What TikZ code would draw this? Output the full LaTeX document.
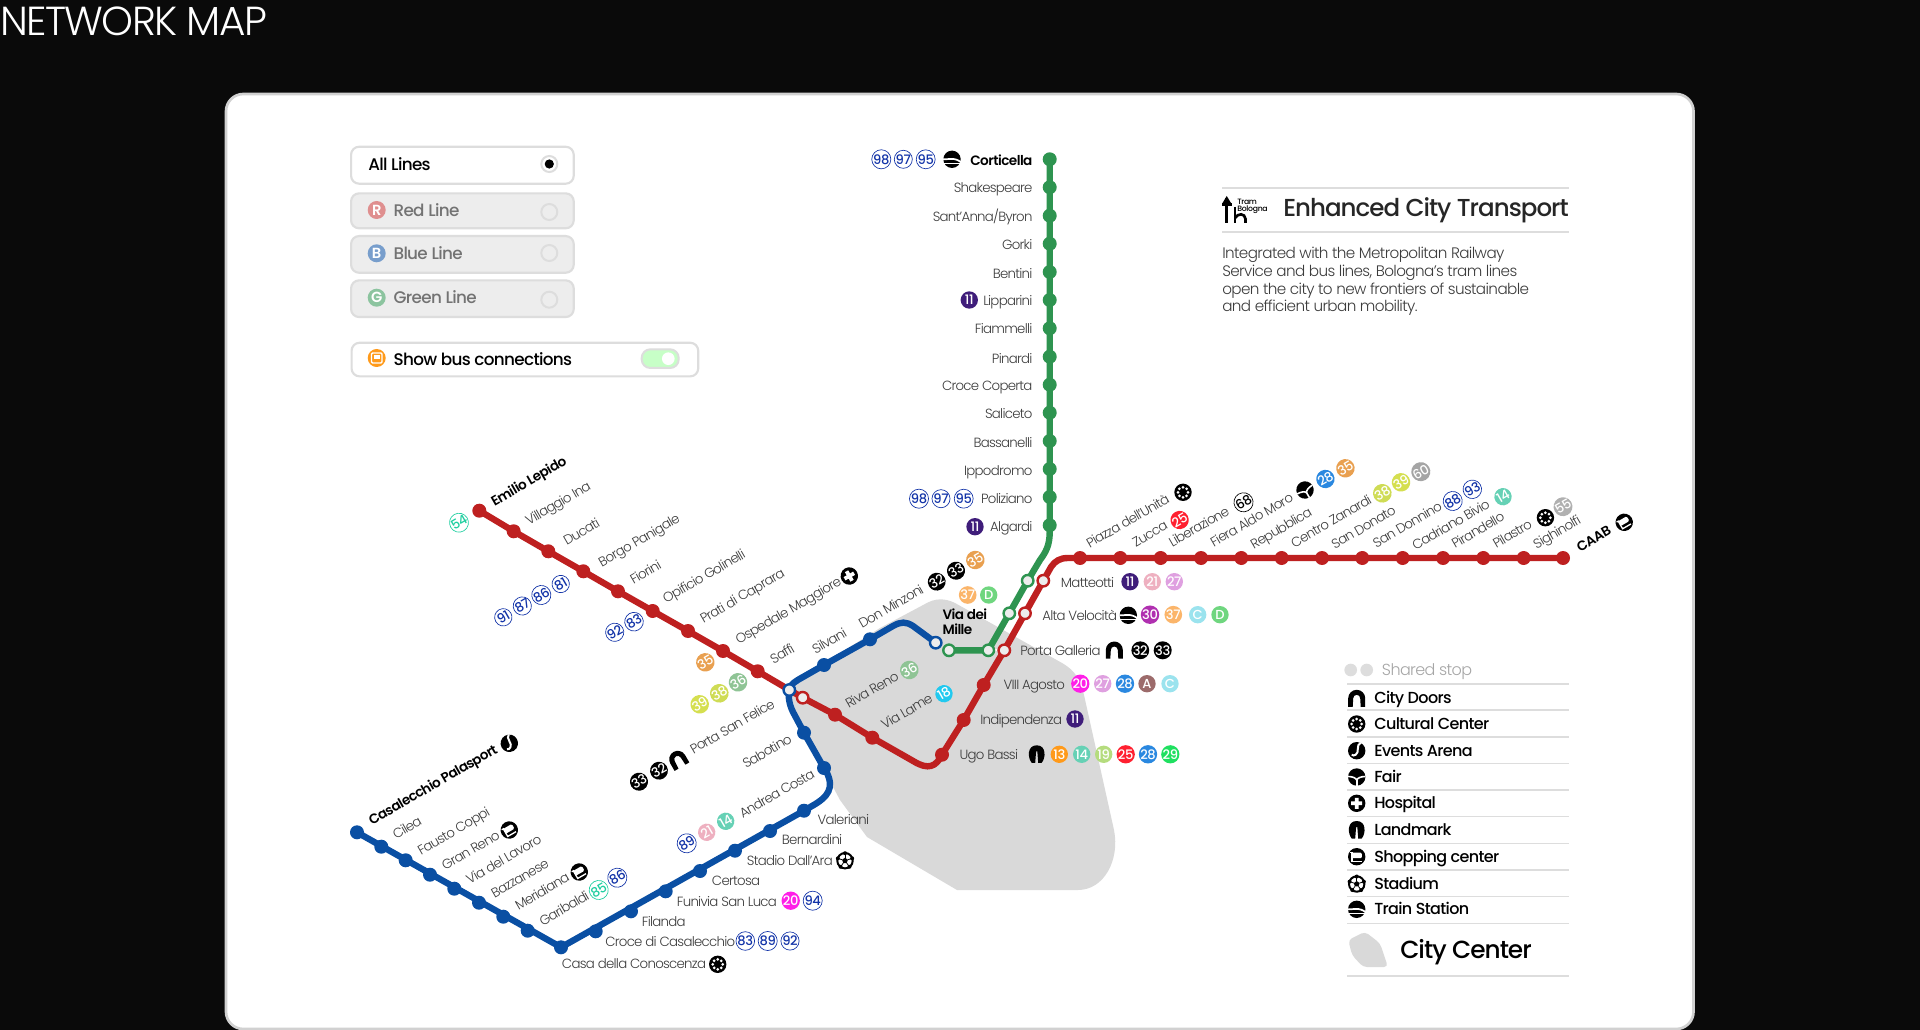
\documentclass[tikz,border=0pt]{standalone}
\usepackage{fontspec}
\setmainfont{Poppins Light}[LetterSpace=-4]
\newfontfamily\lt{Poppins Light}[LetterSpace=-5.5]
\newfontfamily\lth{Poppins Light}[LetterSpace=-4]
\newfontfamily\md{Poppins Medium}[LetterSpace=-4]
\newfontfamily\sm{Poppins SemiBold}[LetterSpace=-4]
\newfontfamily\bdg{Poppins Medium}[LetterSpace=-3]
\usetikzlibrary{calc}
\pgfdeclarelayer{bg}
\pgfsetlayers{bg,main}
\definecolor{pagebg}{HTML}{0A0A0A}
\definecolor{rline}{HTML}{BE2020}
\definecolor{bline}{HTML}{0A4FA3}
\definecolor{gline}{HTML}{2E9450}
\definecolor{cgray}{HTML}{D9D9D9}
\definecolor{txt}{HTML}{3C3C3C}
\definecolor{rule}{HTML}{DDDDDD}
\definecolor{obl}{HTML}{1233A8}
\definecolor{ogr}{HTML}{1FCFA0}
\definecolor{c11}{HTML}{3F1D7A}
\definecolor{c21}{HTML}{EEB0C0}
\definecolor{c27}{HTML}{DFA0E0}
\definecolor{c30}{HTML}{B030B0}
\definecolor{c37}{HTML}{FBB56A}
\definecolor{cC}{HTML}{9BE3EE}
\definecolor{cD}{HTML}{6FD67F}
\definecolor{c20}{HTML}{FF1FE8}
\definecolor{c28}{HTML}{2A88E0}
\definecolor{cA}{HTML}{9C6B6B}
\definecolor{c18}{HTML}{22C9EF}
\definecolor{c13}{HTML}{FF9A1A}
\definecolor{c14}{HTML}{66D1B5}
\definecolor{c19}{HTML}{B5DC7E}
\definecolor{c25}{HTML}{FF2030}
\definecolor{c29}{HTML}{1FE060}
\definecolor{c35}{HTML}{E9A050}
\definecolor{c36}{HTML}{8FC495}
\definecolor{c38}{HTML}{CFDC55}
\definecolor{c39}{HTML}{D5DF50}
\definecolor{c60}{HTML}{A5A5A5}
\definecolor{c55}{HTML}{B0B0B0}
\newcounter{nn}
\tikzset{
  x=0.75pt,y=-0.75pt,
  stopdot/.style={circle,inner sep=0pt,minimum size=10.5pt,fill=#1},
  openstop/.style={circle,inner sep=0pt,minimum size=8.6pt,fill=black!7,draw=#1,line width=1.8pt},
  metro/.style={draw=#1,line width=4.8pt,line join=round,line cap=round},
  badge/.style={circle,inner sep=0pt,minimum size=13pt,font=\bdg\fontsize{9.8}{10}\selectfont,text=white},
  lbl/.style={inner sep=0pt,text=txt,font=\lt\fontsize{10}{12}\selectfont},
  blbl/.style={inner sep=0pt,text=black,font=\sm\fontsize{10.2}{12}\selectfont},
  legtxt/.style={inner sep=0pt,anchor=mid west,yshift=-1.5pt,text=black,font=\md\fontsize{12}{14}\selectfont},
  uibox/.style={draw=rule,line width=1.6pt,rounded corners=6pt},
  radio/.style={circle,inner sep=0pt,minimum size=12pt,draw=rule,line width=1.5pt},
  uiicon/.style={circle,inner sep=0pt,minimum size=13.5pt,text=white,font=\sm\fontsize{11}{11}\selectfont},
  uitxt/.style={inner sep=0pt,anchor=mid west,yshift=-1.8pt,font=\md\fontsize{12.6}{14}\selectfont},
  legrule/.style={draw=rule,line width=1.1pt},
  link/.style={draw=white,line width=1.6pt},
  para/.style={inner sep=0pt,text=txt,anchor=mid west,yshift=-1.2pt,font=\lth\fontsize{11.4}{13}\selectfont}
}
% badges
\newcommand\bd[4][0]{\stepcounter{nn}\node[badge,fill=#3,rotate=#1] (bd\arabic{nn}) at (#2){#4};}
\newcommand\bx[4][0]{\stepcounter{nn}\node[badge,fill=white,draw=#3,line width=.5pt,text=#3,rotate=#1] (bd\arabic{nn}) at (#2){#4};}
% labels
\newcommand\hl[2]{\stepcounter{nn}\node[lbl,anchor=mid west,yshift=-1.3pt] (lb\arabic{nn}) at (#1){#2};}
\newcommand\hr[2]{\stepcounter{nn}\node[lbl,anchor=mid east,yshift=-1.3pt] (lb\arabic{nn}) at (#1){#2};}
\newcommand\rl[2]{\stepcounter{nn}\node[lbl,anchor=base west,rotate=30,xshift=1.5pt,yshift=-1.3pt] (lb\arabic{nn}) at (#1){#2};}
\newcommand\rb[2]{\stepcounter{nn}\node[blbl,anchor=base west,rotate=30,xshift=1.5pt,yshift=-1.3pt] (lb\arabic{nn}) at (#1){#2};}
% icons
\newcommand\iDoor[2][0]{\begin{scope}[shift={(#2)},rotate=#1]
 \fill[black] (-8.5,8.5) -- (-8.5,0) arc (180:360:8.5) -- (8.5,8.5) -- (4,8.5) -- (3.5,0) arc (360:180:3.5) -- (-4,8.5) -- cycle;\end{scope}}
\newcommand\iLand[1]{\begin{scope}[shift={(#1)}]
 \fill[black] (-5,8.5) .. controls (-9,4) and (-10,-9) .. (0,-9) .. controls (10,-9) and (9,4) .. (5,8.5) -- (1.5,8.5) -- (0.6,-3) -- (-0.6,-3) -- (-1.5,8.5) -- cycle;\end{scope}}
\newcommand\iCult[1]{\begin{scope}[shift={(#1)}]
 \fill[black] (0,0) circle (8.7);
 \foreach \a in {0,45,...,315}{\fill[white] (\a:5) circle (1.5);}\end{scope}}
\newcommand\iEvent[2][0]{\begin{scope}[shift={(#2)},rotate=#1]
 \fill[black] (0,0) circle (8.7);
 \draw[white,line width=1.5pt] (4,-8) .. controls (-1,-6) and (3,2) .. (-1,4) .. controls (-2,5) and (-4,5) .. (-5,4);\end{scope}}
\newcommand\iFair[2][0]{\begin{scope}[shift={(#2)},rotate=#1]
 \fill[black] (0,0) circle (8.7);
 \draw[white,line width=1.2pt] (-8.7,-.5) .. controls (-4,-.5) and (-1,1) .. (0,3) .. controls (1,1) and (4,-.5) .. (8.7,-.5);
 \draw[white,line width=1.2pt] (0,2) -- (0,9);\end{scope}}
\newcommand\iHosp[2][0]{\begin{scope}[shift={(#2)},rotate=#1]
 \fill[black] (0,0) circle (8.7);
 \fill[white] (-1.9,-5.5) rectangle (1.9,5.5) (-5.5,-1.9) rectangle (5.5,1.9);\end{scope}}
\newcommand\iShop[2][0]{\begin{scope}[shift={(#2)},rotate=#1]
 \fill[black] (0,0) circle (8.7);
 \fill[white,rounded corners=1pt] (-4.8,-4) rectangle (5.2,1.5);
 \draw[white,line width=1pt] (-6.5,-4) -- (-4.6,-4) -- (-4.6,4.8) -- (5,4.8);\end{scope}}
\newcommand\iStad[1]{\begin{scope}[shift={(#1)}]
 \fill[white] (0,0) circle (8);
 \draw[black,line width=1.5pt] (0,0) circle (7.7);
 \fill[black] (270:3) -- (342:3) -- (54:3) -- (126:3) -- (198:3) -- cycle;
 \foreach \a in {270,342,54,126,198}{\draw[black,line width=.6pt] (\a:3) -- (\a:7);\fill[black] (\a:7.5) circle (2);}\end{scope}}
\newcommand\iTrain[1]{\begin{scope}[shift={(#1)}]
 \fill[black] (0,0) circle (8.7);
 \draw[white,line width=1.3pt] (-9,0) -- (-1,-.3) .. controls (3,-.5) and (6,.5) .. (9,3);
 \draw[white,line width=1.3pt] (-9,4.2) -- (9,4.2);\end{scope}}
\begin{document}
\begin{tikzpicture}
\useasboundingbox (0,0) rectangle (1920,1030);
% ---------- stops
\foreach \n/\px/\py in {g1/1049.7/159.3,g2/1049.7/187.3,g3/1049.7/215.7,g4/1049.7/243.7,g5/1049.7/272,g6/1049.7/300,g7/1049.7/328.3,g8/1049.7/356.7,g9/1049.7/384.7,g10/1049.7/412.7,g11/1049.7/441,g12/1049.7/469,g13/1049.7/497,g14/1049.7/525.3}
 {\node[stopdot=gline] (\n) at (\px,\py) {};}
\foreach \n/\px/\py in {r1/479.3/510.7,r2/513.7/531.3,r3/548.3/551.3,r4/583.3/571.3,r5/618/591.3,r6/652.7/611,r7/688/631,r8/723/651,r9/757.7/671.3,r11/835/714.7,r12/872.3/737.7,r13/942/754.7,r14/963.7/720,r15/983.7/685,
 e1/1080/558,e2/1120.3/558,e3/1160.7/558,e4/1201/558,e5/1241.3/558,e6/1281.7/558,e7/1322/558,e8/1362.3/558,e9/1402.7/558,e10/1443/558,e11/1483.3/558,e12/1523.7/558,e13/1563/558}
 {\node[stopdot=rline] (\n) at (\px,\py) {};}
\foreach \n/\px/\py in {u1/357/832.3,u2/381.3/846.7,u3/405.7/860.3,u4/430/874.7,u5/454.3/888.7,u6/479/902.7,u7/503.3/916.7,u8/527.7/930.7,u9/561/947.3,u10/595.7/931.3,u11/631/911.3,u12/665.7/891.3,u13/700/871,u14/735/850.7,u15/770/831,u16/804/810.7,u17/824/768,u18/804/732.7,u20/824/665,u21/870/639.3}
 {\node[stopdot=bline] (\n) at (\px,\py) {};}
\node[openstop=gline] (gm) at (1027.7,580.7) {};
\node[openstop=rline] (rm) at (1043.3,580.7) {};
\node[openstop=gline] (ga) at (1009.3,613.3) {};
\node[openstop=rline] (ra) at (1025,613.3) {};
\node[openstop=gline] (gp) at (988.3,650.3) {};
\node[openstop=rline] (rp) at (1004.3,650.3) {};
\node[openstop=gline] (gv) at (949,650.3) {};
\node[openstop=bline] (uv) at (935.7,642.7) {};
\node[openstop=bline] (us) at (789.3,690) {};
\node[openstop=rline] (rs) at (802.7,697.7) {};
% ---------- background shapes and lines
\begin{pgfonlayer}{bg}
\fill[pagebg] (0,0) rectangle (1920,1030);
\draw[fill=white,draw=black!18,line width=2pt,rounded corners=13pt] (226,94) rectangle (1693.5,1029);
\fill[cgray] (788,686) -- (880,628) -- (925,604) .. controls (935,598) and (945,598) .. (955,603) -- (1062,663) .. controls (1076,671) and (1080,680) .. (1084,695) -- (1114,830) .. controls (1120,860) and (1104,890) .. (1078,890) -- (957,890) -- (867,837) -- (840,800) -- (800,725) -- cycle;
\draw[metro=gline] (g1.center) -- (g14.center) -- (1049.7,532) .. controls (1049.7,545) and (1046,552) .. (1040,560) -- (gm.center) -- (ga.center) -- (gp.center) -- (gv.center);
\draw[metro=rline] (r1.center) -- (r2.center) -- (r3.center) -- (r4.center) -- (r5.center) -- (r6.center) -- (r7.center) -- (r8.center) -- (r9.center) -- (rs.center) -- (r11.center) -- (r12.center) -- (914,761.5) .. controls (928,770) and (936,767) .. (942,754.7) -- (r14.center) -- (r15.center) -- (rp.center) -- (ra.center) -- (rm.center) -- (1051,567) .. controls (1055,561) and (1060,558) .. (1068,558) -- (e13.center);
\draw[metro=bline] (u1.center) -- (u9.center) -- (u16.center) -- (812,806) .. controls (828,797) and (835,788) .. (826,771) -- (u17.center) -- (u18.center) -- (793,712) .. controls (789,704) and (788,696) .. (us.center) .. controls (790,684) and (796,681) .. (803,677) -- (u20.center) -- (u21.center) -- (893,626) .. controls (901,621.5) and (906,621.5) .. (913,626) -- (uv.center);
\draw[link] (gm) -- (rm);
\draw[link] (ga) -- (ra);
\draw[link] (gp) -- (rp);
\end{pgfonlayer}
% ---------- title
\node[inner sep=0pt,anchor=base west,text=white,font=\lth\fontsize{30.4}{32}\selectfont] (title) at (0,36) {NETWORK MAP};
% ---------- filter boxes
\node[uibox,fill=white,minimum width=167pt,minimum height=27.7pt,inner sep=0pt,anchor=north west] (fall) at (350,145.7) {};
\node[uibox,fill=black!7,minimum width=167pt,minimum height=26.2pt,inner sep=0pt,anchor=north west] (fred) at (350,192.3) {};
\node[uibox,fill=black!7,minimum width=167pt,minimum height=27.5pt,inner sep=0pt,anchor=north west] (fblue) at (350,235) {};
\node[uibox,fill=black!7,minimum width=167pt,minimum height=27.5pt,inner sep=0pt,anchor=north west] (fgreen) at (350,279.3) {};
\node[uibox,fill=white,minimum width=260pt,minimum height=25.2pt,inner sep=0pt,anchor=north west] (fbus) at (350.5,341.7) {};
\node[uitxt,text=black] (tall) at (368,164) {All Lines};
\node[uiicon,fill=rline!50] (ired) at (376.7,210) {R};
\node[uiicon,fill=bline!55] (iblue) at (376.7,253.3) {B};
\node[uiicon,fill=gline!55] (igreen) at (376.7,297.7) {G};
\node[uitxt,text=black!55] (tred) at (393.3,210) {Red Line};
\node[uitxt,text=black!55] (tblue) at (393.3,253.3) {Blue Line};
\node[uitxt,text=black!55] (tgreen) at (393.3,297.7) {Green Line};
\node[radio,fill=white] (rall) at (549.3,164) {};
\fill[black] (rall.center) circle (4.6);
\node[radio] (rrred) at (549.3,212) {};
\node[radio] (rrblue) at (549.3,253) {};
\node[radio] (rrgreen) at (549.3,299.7) {};
\node[circle,inner sep=0pt,minimum size=13.5pt,fill=c13] (ibus) at (376.7,358) {};
\draw[white,line width=1pt,rounded corners=.8pt] (371.5,353) rectangle (382,363);
\fill[white] (373.5,355) rectangle (380,359);
\node[uitxt,text=black] (tbus) at (393.3,359) {Show bus connections};
\draw[draw=rule,line width=1.5pt,fill=green!22!white,rounded corners=6.5pt] (641.7,349.3) rectangle (678.7,368);
\node[circle,inner sep=0pt,minimum size=9.5pt,fill=white] (knob) at (668.3,358.7) {};
% ---------- header panel
\draw[legrule,line width=1.6pt] (1222,188) -- (1569,188);
\draw[legrule,line width=1.6pt] (1222,232) -- (1569,232);
\draw[black,line width=2pt] (1226.7,198) -- (1226.7,223);
\fill[black] (1226.7,196) -- (1231,203) -- (1222.5,203) -- cycle;
\draw[black,line width=1.6pt] (1222,204.5) -- (1232,204.5);
\draw[black,line width=2pt] (1235,207) -- (1235,223);
\draw[black,line width=2pt] (1235,218) .. controls (1238,213) and (1245,213) .. (1245.5,219) -- (1245.5,223);
\node[inner sep=0pt,anchor=mid west,font=\md\fontsize{5.8}{6}\selectfont] (ltram) at (1237,200.5) {Tram};
\node[inner sep=0pt,anchor=mid west,font=\md\fontsize{5.8}{6}\selectfont] (lbol) at (1237,208) {Bologna};
\node[inner sep=0pt,anchor=mid west,yshift=-3.6pt,text=black!85,font=\md\fontsize{18.4}{20}\selectfont] (htitle) at (1283,208.5) {Enhanced City Transport};
\node[para] (p1) at (1222,253) {Integrated with the Metropolitan Railway};
\node[para] (p2) at (1222,271) {Service and bus lines, Bologna’s tram lines};
\node[para] (p3) at (1222,289) {open the city to new frontiers of sustainable};
\node[para] (p4) at (1222,306.5) {and efficient urban mobility.};
% ---------- legend
\node[circle,inner sep=0pt,minimum size=9.5pt,fill=rule] (ls1) at (1350.7,670) {};
\node[circle,inner sep=0pt,minimum size=9.5pt,fill=rule] (ls2) at (1366.7,670) {};
\node[legtxt,text=black!35,font=\lth\fontsize{12}{14}\selectfont] (lshared) at (1381.7,669.5) {Shared stop};
\foreach \ly in {684,710,737,763.3,790,816.7,843.3,870,896.7,923.3,976}{\draw[legrule] (1347,\ly) -- (1569,\ly);}
\iDoor{1356.7,698.3}\node[legtxt] (l1) at (1374,698.3) {City Doors};
\iCult{1356.7,724}\node[legtxt] (l2) at (1374,724) {Cultural Center};
\iEvent{1356.7,750.7}\node[legtxt] (l3) at (1374,750.7) {Events Arena};
\iFair{1356.7,777}\node[legtxt] (l4) at (1374,777) {Fair};
\iHosp{1356.7,803.3}\node[legtxt] (l5) at (1374,803.3) {Hospital};
\iLand{1356.7,830}\node[legtxt] (l6) at (1374,830) {Landmark};
\iShop{1356.7,856.7}\node[legtxt] (l7) at (1374,856.7) {Shopping center};
\iStad{1356.7,884}\node[legtxt] (l8) at (1374,884) {Stadium};
\iTrain{1356.7,909.3}\node[legtxt] (l9) at (1374,909.3) {Train Station};
\fill[cgray,rounded corners=3pt] (1348.3,940) -- (1365,931.7) -- (1380,943.3) -- (1388,967) -- (1363,967) -- (1352,955) -- cycle;
\node[legtxt,yshift=-3pt,font=\md\fontsize{18.6}{22}\selectfont] (lcc) at (1400,948.5) {City Center};
% ---------- green line labels
\stepcounter{nn}\node[blbl,anchor=mid east,yshift=-1.3pt] (lcort) at (1032.7,160) {Corticella};
\hr{1032.7,187.5}{Shakespeare}
\hr{1032.7,216}{Sant’Anna/Byron}
\hr{1032.7,244}{Gorki}
\hr{1032.7,273}{Bentini}
\hr{1032.7,300}{Lipparini}
\hr{1032.7,328.5}{Fiammelli}
\hr{1032.7,358}{Pinardi}
\hr{1032.7,385.5}{Croce Coperta}
\hr{1032.7,413.5}{Saliceto}
\hr{1032.7,442}{Bassanelli}
\hr{1032.7,470}{Ippodromo}
\hr{1032.7,498.5}{Poliziano}
\hr{1032.7,526}{Algardi}
\bx{881.3,159.3}{obl}{98}\bx{903.3,159.3}{obl}{97}\bx{925.7,159.3}{obl}{95}
\iTrain{952,159.3}
\bd{969.3,300}{c11}{11}
\bx{919,498.7}{obl}{98}\bx{941,498.7}{obl}{97}\bx{963.7,498.7}{obl}{95}
\bd{975,526.7}{c11}{11}
% ---------- hub labels
\hl{1060.7,581.7}{Matteotti}
\bd{1130,581.7}{c11}{11}\bd{1152.3,581.7}{c21}{21}\bd{1174.3,581.7}{c27}{27}
\hl{1042,615}{Alta Velocità}
\iTrain{1128.3,615.3}\bd{1150,614.7}{c30}{30}\bd{1173.3,614.7}{c37}{37}\bd{1197.7,614.7}{cC}{C}\bd{1220,614.7}{cD}{D}
\hl{1020,650}{Porta Galleria}
\iDoor{1114.3,650}\bd{1140.3,650.3}{black}{32}\bd{1162.7,650.3}{black}{33}
\hl{1003.3,683.7}{VIII Agosto}
\bd{1080.3,683.7}{c20}{20}\bd{1102.7,683.7}{c27}{27}\bd{1125,683.7}{c28}{28}\bd{1147,683.7}{cA}{A}\bd{1170,683.7}{cC}{C}
\hl{980,719}{Indipendenza}
\bd{1075,719}{c11}{11}
\hl{959.3,754.3}{Ugo Bassi}
\iLand{1036.7,754.3}\bd{1059.3,754.3}{c13}{13}\bd{1081.7,754.3}{c14}{14}\bd{1103.7,754.3}{c19}{19}\bd{1125.7,754.3}{c25}{25}\bd{1148,754.3}{c28}{28}\bd{1170.3,754.3}{c29}{29}
\node[blbl,anchor=mid west,yshift=-1.3pt] (lvia1) at (942.3,614.3) {Via dei};
\node[blbl,anchor=mid west,yshift=-1.3pt] (lvia2) at (942.3,629) {Mille};
\bd{967.7,595}{c37}{37}\bd{988.7,595}{cD}{D}
\bd[30]{975.3,560}{c35}{35}\bd[30]{956,570.7}{black}{33}\bd[30]{936.7,581.7}{black}{32}
\bd[30]{909.3,670}{c36}{36}\bd[30]{944,693.7}{c18}{18}
% ---------- east branch labels
\rl{1087,548}{Piazza dell’Unità}\iCult{1183,492.3}
\rl{1133,547}{Zucca}\bd[30]{1179.6,520}{c25}{25}
\rl{1169.6,547}{Liberazione}\bx[30]{1243.5,502.3}{black}{68}
\rl{1211,546.7}{Fiera Aldo Moro}\iFair[30]{1305,490}
\rl{1251,549}{Repubblica}\bd[30]{1325.4,479}{c28}{28}\bd[30]{1345.4,468.3}{c35}{35}
\rl{1291.5,547.7}{Centro Zanardi}\bd[30]{1382.3,493.3}{c38}{38}\bd[30]{1401,482.3}{c39}{39}\bd[30]{1420.8,471.7}{c60}{60}
\rl{1332,549}{San Donato}
\rl{1373.5,547.7}{San Donnino}\bx[30]{1452.7,501}{obl}{88}\bx[30]{1472.3,489.3}{obl}{93}
\rl{1412.7,550}{Cadriano Bivio}
\rl{1452.3,548.3}{Pirandello}\bd[30]{1503,496.7}{c14}{14}
\rl{1493.5,548.3}{Pilastro}\iCult{1545.4,517.7}\bd[30]{1563,506.7}{c55}{55}
\rl{1533.8,549}{Sighinolfi}
\rb{1577.3,551.7}{CAAB}\iShop[30]{1624.2,522.3}
% ---------- west branch labels
\rb{491.7,506}{Emilio Lepido}
\rl{526,525}{Villaggio Ina}
\rl{564,545}{Ducati}
\rl{599,566.7}{Borgo Panigale}
\rl{630.7,584}{Fiorini}
\rl{663.3,603.3}{Opificio Golinelli}
\rl{700.7,623.3}{Prati di Caprara}
\rl{736,644}{Ospedale Maggiore}\iHosp[30]{849.3,576}
\rl{770.7,664}{Saffi}
\rl{812.7,654}{Silvani}
\rl{859.3,628.3}{Don Minzoni}
\rl{846,708.3}{Riva Reno}
\rl{881.7,729.3}{Via Lame}
\rl{690.7,754}{Porta San Felice}\iDoor[30]{677.7,759.3}\bd[30]{659,770.7}{black}{32}\bd[30]{639,781.7}{black}{33}
\rl{743.3,768.3}{Sabotino}
\bx[30]{459,522.7}{ogr}{54}
\bx[30]{503.3,617.3}{obl}{91}\bx[30]{522.3,606}{obl}{87}\bx[30]{541.3,595}{obl}{86}\bx[30]{560.7,584}{obl}{81}
\bx[30]{614.7,632.3}{obl}{92}\bx[30]{634,621.7}{obl}{83}
\bd[30]{705.3,662.3}{c35}{35}\bd[30]{738,682.3}{c36}{36}\bd[30]{719.3,693.3}{c38}{38}\bd[30]{699.7,704.3}{c39}{39}
% ---------- south west labels
\rb{369.3,825}{Casalecchio Palasport}\iEvent[30]{509.3,743.3}
\rl{393.3,839.3}{Cilea}
\rl{418.3,855}{Fausto Coppi}
\rl{442.3,870}{Gran Reno}\iShop[30]{509.3,830}
\rl{466.7,884}{Via del Lavoro}
\rl{491.7,897.7}{Bazzanese}
\rl{515.7,910}{Meridiana}\iShop[30]{579.3,872}
\rl{540,925.7}{Garibaldi}\bx[30]{598.7,890}{ogr}{85}\bx[30]{617.3,877.7}{obl}{86}
\rl{740,818.3}{Andrea Costa}\bd[30]{725.7,821.3}{c14}{14}\bd[30]{706.7,832.3}{c21}{21}\bx[30]{686.7,843.3}{obl}{89}
\hl{817.3,819.3}{Valeriani}
\hl{781.7,839.3}{Bernardini}
\hl{746.7,860}{Stadio Dall’Ara}\iStad{845,860.7}
\hl{711.7,880}{Certosa}
\hl{676.7,900.7}{Funivia San Luca}\bd{790.7,900.7}{c20}{20}\bx{812.7,900.7}{obl}{94}
\hl{641.7,921}{Filanda}
\hl{605,941}{Croce di Casalecchio}\bx{745.3,941}{obl}{83}\bx{767.7,941}{obl}{89}\bx{790,941}{obl}{92}
\hl{561.7,963.3}{Casa della Conoscenza}\iCult{717.7,964.3}
\end{tikzpicture}
\end{document}
